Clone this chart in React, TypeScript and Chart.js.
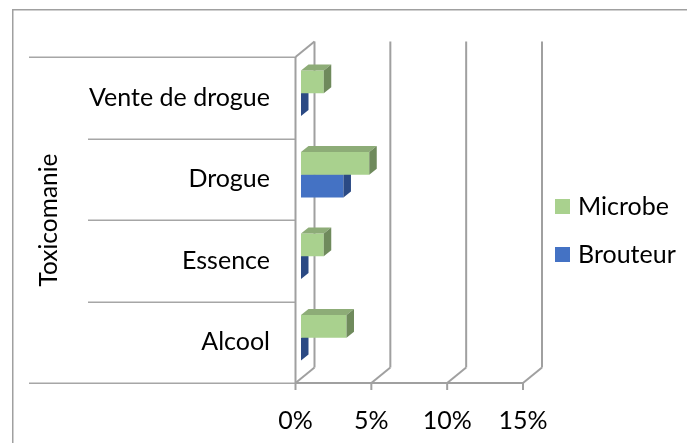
import React, { useEffect, useRef } from 'react';
import { Chart, registerables } from 'chart.js';

Chart.register(...registerables);

// ---- data ----
const categories = ['Vente de drogue', 'Drogue', 'Essence', 'Alcool'];
const microbe = [0.015, 0.045, 0.015, 0.03];
const brouteur = [0, 0.028, 0, 0];
const seriesNames = ['Microbe', 'Brouteur'];
const xTickValues = [0, 0.05, 0.1, 0.15];
const axisTitle = 'Toxicomanie';

// ---- style ----
const FONT = 'Lato';
const FONT_SIZE = 25;
const GRID = '#a0a0a0';
const DEPTH_X = 19;
const DEPTH_Y = -15.5;
const BAR_SHIFT_X = 5.5;
const BAR_SHIFT_Y = -4.5;
const BAR_DX = 7.5;
const BAR_DY = -6;

const threeD = {
  id: 'threeD',
  beforeDraw(chart: any) {
    const ctx = chart.ctx;
    ctx.save();
    ctx.fillStyle = '#ffffff';
    ctx.fillRect(0, 0, chart.width, chart.height);
    ctx.strokeStyle = '#a0a0a0';
    ctx.lineWidth = 1.5;
    ctx.strokeRect(12.75, 9.75, 720, 460);
    ctx.restore();
  },
  beforeDatasetsDraw(chart: any) {
    const ctx = chart.ctx;
    const xs = chart.scales.x;
    const ys = chart.scales.y;
    const { top, bottom, left } = chart.chartArea;
    ctx.save();
    ctx.lineCap = 'butt';
    // category divider lines
    ctx.strokeStyle = '#a6a6a6';
    ctx.lineWidth = 1.5;
    const n = categories.length;
    for (let i = 0; i <= n; i++) {
      let y;
      if (i === 0) y = top;
      else if (i === n) y = bottom;
      else y = (ys.getPixelForValue(i - 1) + ys.getPixelForValue(i)) / 2;
      const x0 = i === 0 || i === n ? 29 : 88;
      ctx.beginPath();
      ctx.moveTo(x0, Math.round(y) + 0.25);
      ctx.lineTo(left, Math.round(y) + 0.25);
      ctx.stroke();
    }
    // walls
    ctx.strokeStyle = GRID;
    ctx.lineWidth = 2;
    ctx.beginPath();
    ctx.moveTo(left, top);
    ctx.lineTo(left, bottom);
    ctx.stroke();
    ctx.beginPath();
    ctx.moveTo(left, top);
    ctx.lineTo(left + DEPTH_X, top + DEPTH_Y);
    ctx.stroke();
    const x0 = xs.getPixelForValue(xTickValues[0]);
    const x1 = xs.getPixelForValue(xTickValues[xTickValues.length - 1]);
    ctx.beginPath();
    ctx.moveTo(x0, bottom);
    ctx.lineTo(x1, bottom);
    ctx.stroke();
    xTickValues.forEach((v) => {
      const x = xs.getPixelForValue(v);
      ctx.beginPath();
      ctx.moveTo(x + DEPTH_X, top + DEPTH_Y);
      ctx.lineTo(x + DEPTH_X, bottom + DEPTH_Y);
      ctx.stroke();
      ctx.beginPath();
      ctx.moveTo(x, bottom);
      ctx.lineTo(x + DEPTH_X, bottom + DEPTH_Y);
      ctx.stroke();
      ctx.beginPath();
      ctx.moveTo(x, bottom);
      ctx.lineTo(x, bottom + 7);
      ctx.stroke();
    });
    ctx.restore();
  },
  beforeDatasetDraw(chart: any) {
    const ctx = chart.ctx;
    ctx.save();
    ctx.translate(BAR_SHIFT_X, BAR_SHIFT_Y);
  },
  afterDatasetDraw(chart: any, args: any) {
    const ctx = chart.ctx;
    const ds: any = chart.data.datasets[args.index];
    const meta = args.meta;
    meta.data.forEach((el: any) => {
      const p = el.getProps(['x', 'y', 'base', 'height'], true);
      const t = p.y - p.height / 2;
      const b = p.y + p.height / 2;
      ctx.fillStyle = ds.topColor;
      ctx.beginPath();
      ctx.moveTo(p.base, t);
      ctx.lineTo(p.x, t);
      ctx.lineTo(p.x + BAR_DX, t + BAR_DY);
      ctx.lineTo(p.base + BAR_DX, t + BAR_DY);
      ctx.closePath();
      ctx.fill();
      ctx.fillStyle = ds.sideColor;
      ctx.beginPath();
      ctx.moveTo(p.x, t);
      ctx.lineTo(p.x + BAR_DX, t + BAR_DY);
      ctx.lineTo(p.x + BAR_DX, b + BAR_DY);
      ctx.lineTo(p.x, b);
      ctx.closePath();
      ctx.fill();
    });
    ctx.restore();
  },
  afterDraw(chart: any) {
    const ctx = chart.ctx;
    ctx.save();
    ctx.font = `${FONT_SIZE}px ${FONT}`;
    ctx.textBaseline = 'middle';
    ctx.textAlign = 'left';
    chart.data.datasets.forEach((ds: any, i: number) => {
      const y = 199 + i * 48;
      ctx.fillStyle = ds.backgroundColor;
      ctx.fillRect(555, y, 15, 15);
      ctx.fillStyle = '#000000';
      ctx.fillText(ds.label, 578, y + 8);
    });
    ctx.restore();
  },
};

export default function App() {
  const ref = useRef<HTMLCanvasElement>(null);
  useEffect(() => {
    if (!ref.current) return;
    const chart = new Chart(ref.current, {
      type: 'bar',
      data: {
        labels: categories,
        datasets: [
          {
            label: seriesNames[0],
            data: microbe,
            backgroundColor: '#a9d18e',
            topColor: '#8dac77',
            sideColor: '#6f8a5c',
            borderWidth: 0,
            categoryPercentage: 0.56,
            barPercentage: 1,
          } as any,
          {
            label: seriesNames[1],
            data: brouteur,
            backgroundColor: '#4472c4',
            topColor: '#3a63ad',
            sideColor: '#2b4a84',
            borderWidth: 0,
            categoryPercentage: 0.56,
            barPercentage: 1,
          } as any,
        ],
      },
      options: {
        indexAxis: 'y',
        animation: false,
        responsive: false,
        devicePixelRatio: 1,
        layout: { padding: { top: 57, right: 164, bottom: 0, left: 0 } },
        plugins: { legend: { display: false }, tooltip: { enabled: false } },
        scales: {
          x: {
            type: 'linear',
            min: 0,
            max: 0.15,
            afterBuildTicks: (s: any) => {
              s.ticks = xTickValues.map((v) => ({ value: v }));
            },
            afterFit: (s: any) => {
              s.height = 60;
            },
            grid: { display: false, drawTicks: false },
            border: { display: false },
            ticks: {
              color: '#000000',
              font: { family: FONT, size: FONT_SIZE },
              padding: 23,
              maxRotation: 0,
              callback: (v: any) => `${Math.round(Number(v) * 100)}%`,
            },
          },
          y: {
            type: 'category',
            afterFit: (s: any) => {
              s.width = 295.5;
            },
            grid: { display: false, drawTicks: false },
            border: { display: false },
            ticks: {
              color: '#000000',
              font: { family: FONT, size: FONT_SIZE },
              padding: 25.5,
            },
            title: {
              display: true,
              text: axisTitle,
              color: '#000000',
              font: { family: FONT, size: 24.5 },
              padding: { top: 34, bottom: 0 },
            },
          },
        },
      },
      plugins: [threeD],
    });
    return () => chart.destroy();
  }, []);
  return (
    <div style={{ position: 'fixed', left: 0, top: 0, width: 687, height: 443 }}>
      <canvas ref={ref} width={687} height={443} style={{ display: 'block' }} />
    </div>
  );
}
